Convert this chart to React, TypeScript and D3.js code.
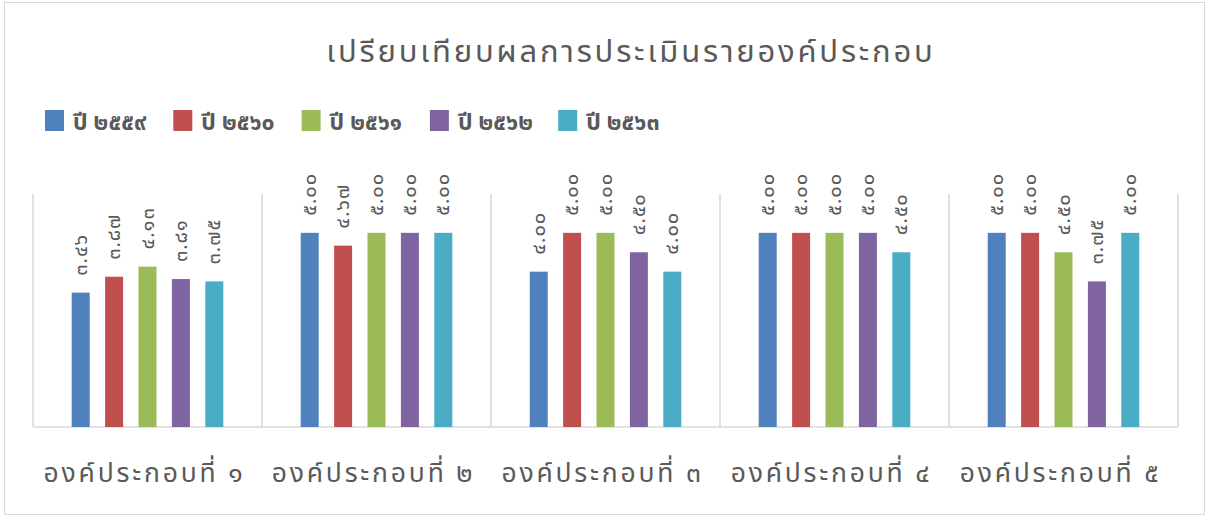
import React from "react";
import * as d3 from "d3";

const categories = ["องค์ประกอบที่ ๑", "องค์ประกอบที่ ๒", "องค์ประกอบที่ ๓", "องค์ประกอบที่ ๔", "องค์ประกอบที่ ๕"];
const seriesNames = ["ปี ๒๕๕๙", "ปี ๒๕๖๐", "ปี ๒๕๖๑", "ปี ๒๕๖๒", "ปี ๒๕๖๓"];
const y2559 = [3.46, 5.0, 4.0, 5.0, 5.0];
const y2560 = [3.87, 4.67, 5.0, 5.0, 5.0];
const y2561 = [4.13, 5.0, 5.0, 5.0, 4.5];
const y2562 = [3.81, 5.0, 4.5, 5.0, 3.75];
const y2563 = [3.75, 5.0, 4.0, 4.5, 5.0];
const seriesValues = [y2559, y2560, y2561, y2562, y2563];
const colors = ["#4F81BD", "#C0504D", "#9BBB59", "#8064A2", "#4BACC6"];
const title = "เปรียบเทียบผลการประเมินรายองค์ประกอบ";

const thaiDigits = "๐๑๒๓๔๕๖๗๘๙";
const toThai = (s: string) => s.replace(/[0-9]/g, (d) => thaiDigits[+d]);

const W = 1208;
const H = 518;
const FONT = "'Noto Sans', 'Noto Sans Thai', 'DejaVu Sans', sans-serif";

export default function App() {
  const left = 33, right = 1178, top = 194, bottom = 427;
  const x = d3.scaleBand<number>().domain(d3.range(categories.length)).range([left, right]);
  const y = d3.scaleLinear().domain([0, 6]).range([bottom, top]);
  const step = 33.4;
  const barW = 18;
  const textColor = "#595959";

  return (
    <div style={{ position: "absolute", left: 0, top: 0 }}>
      <svg width={W} height={H} style={{ display: "block" }}>
        <rect x={0} y={0} width={W} height={H} fill="#fff" />
        <rect x={4.5} y={2.5} width={1200} height={512} fill="none" stroke="#d9d9d9" strokeWidth={1} />
        <text x={631} y={62} textAnchor="middle" fontFamily={FONT} fontSize={31} fill={textColor} letterSpacing={2.8}>
          {title}
        </text>
        {seriesNames.map((n, i) => (
          <g key={n} transform={`translate(${45 + i * 128.3},110)`}>
            <rect x={0} y={0} width={19} height={21} fill={colors[i]} />
            <text x={28} y={20} fontFamily={FONT} fontSize={23} fontWeight="bold" fill={textColor}>
              {n}
            </text>
          </g>
        ))}
        {d3.range(categories.length + 1).map((i) => {
          const xx = i === categories.length ? right : x(i)!;
          return <line key={i} x1={xx} x2={xx} y1={top} y2={bottom} stroke="#d9d9d9" strokeWidth={1.5} />;
        })}
        <line x1={left} x2={right} y1={bottom} y2={bottom} stroke="#d9d9d9" strokeWidth={1.5} />
        {categories.map((c, ci) => {
          const cx = x(ci)! + x.bandwidth() / 2;
          return (
            <g key={c}>
              {seriesValues.map((vals, si) => {
                const bx = cx + (si - 2) * step - barW / 2;
                const v = vals[ci];
                const label = toThai(v.toFixed(2));
                const ty = y(v) - 17;
                return (
                  <g key={si}>
                    <rect x={bx} y={y(v)} width={barW} height={bottom - y(v)} fill={colors[si]} />
                    <text
                      transform={`translate(${bx + barW / 2 + 6},${ty}) rotate(-90)`}
                      fontFamily={FONT}
                      fontSize={20}
                      fill={textColor}
                      letterSpacing={1}
                    >
                      {label}
                    </text>
                  </g>
                );
              })}
              <text x={cx - 3} y={482} textAnchor="middle" fontFamily={FONT} fontSize={26.5} fill={textColor} letterSpacing={2.8}>
                {c}
              </text>
            </g>
          );
        })}
      </svg>
    </div>
  );
}
